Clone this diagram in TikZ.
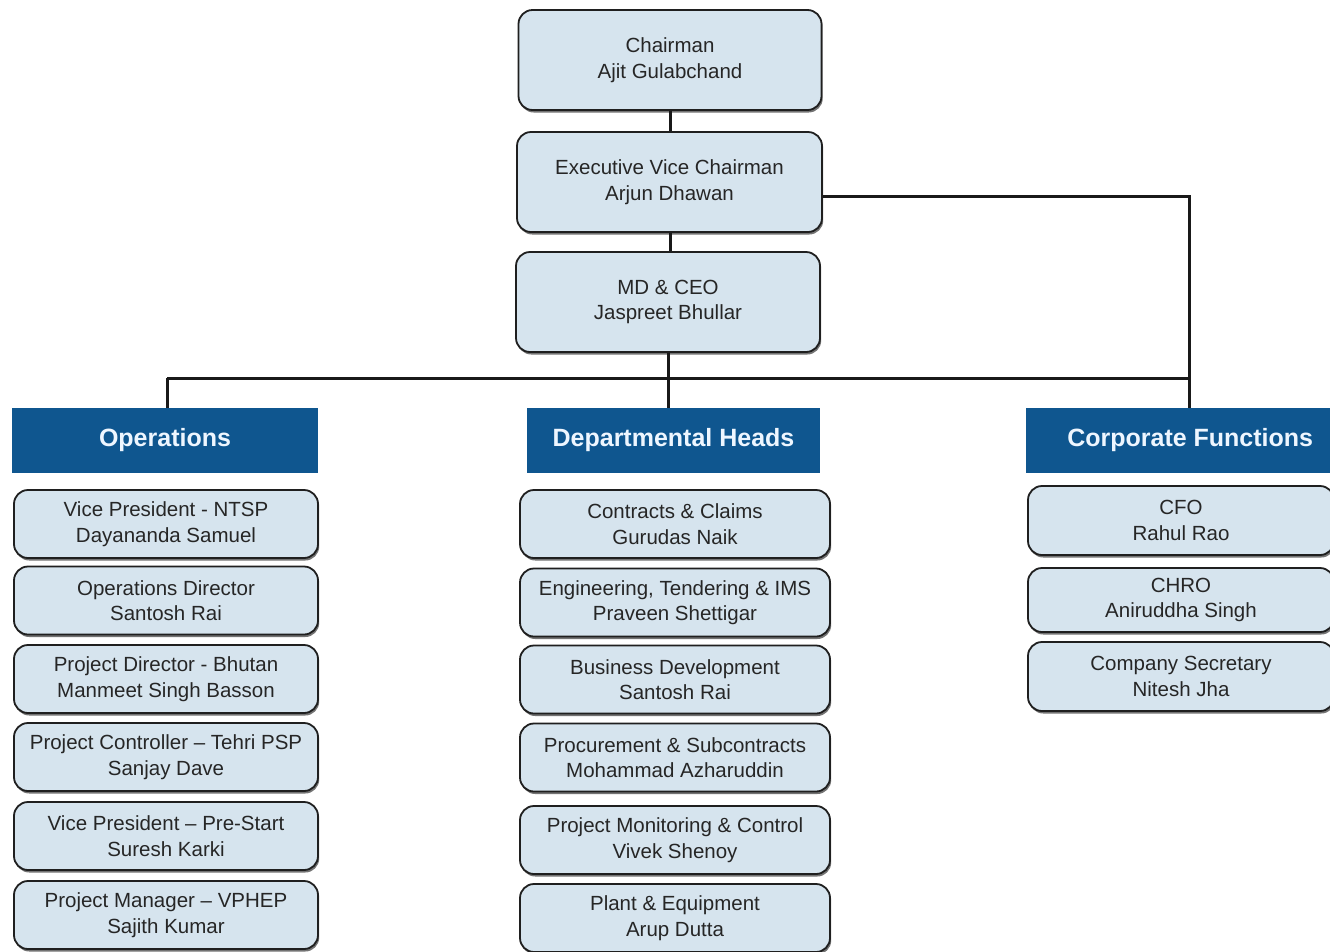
\documentclass[tikz,border=0pt]{standalone}
\usepackage{fontspec}
\setmainfont{Liberation Sans}
\usetikzlibrary{shadows}
\definecolor{boxfill}{HTML}{D6E4EE}
\definecolor{hdrfill}{HTML}{0F568F}
\definecolor{hdrtext}{HTML}{EEF6FF}
\begin{document}
\begin{tikzpicture}[x=1pt,y=1pt,
  box/.style={draw=black!88, line width=1.8pt, rounded corners=14pt, fill=boxfill,
    align=center, inner sep=0pt, font=\fontsize{20.5}{25.5}\selectfont, text=black!85,
    drop shadow={shadow xshift=1.2pt, shadow yshift=-2.5pt, opacity=0.55, fill=black}},
  hdr/.style={fill=hdrfill, inner sep=0pt, minimum height=65pt, text=hdrtext,
    font=\fontsize{25}{29}\selectfont\bfseries},
  link/.style={line width=3pt, draw=black!90}]
\useasboundingbox (0,0) rectangle (1330,-951);
\fill[white] (0,0) rectangle (1330,-951);

% top chain
\node[box, minimum width=303pt, minimum height=100pt] (chair) at (670,-60) {Chairman\\Ajit Gulabchand};
\node[box, minimum width=305pt, minimum height=100pt] (evc) at (669.5,-182) {Executive Vice Chairman\\Arjun Dhawan};
\node[box, minimum width=304pt, minimum height=100pt] (md) at (668,-302) {MD \& CEO\\Jaspreet Bhullar};

% headers
\node[hdr, minimum width=306pt] (ops) at (165,-440.5) {Operations};
\node[hdr, minimum width=293pt] (dept) at (673.5,-440.5) {Departmental Heads};
\node[hdr, minimum width=328pt, anchor=west] (corp) at (1026,-440.5) {Corporate Functions};

% connectors
\coordinate (bus) at (668,-378);
\coordinate (busL) at (167,-378);
\coordinate (busR) at (1189,-378);
\coordinate (evcR) at (1189,-196);
\draw[link] (chair.south) -- (chair.south |- evc.north);
\draw[link] (chair.south |- evc.south) -- (chair.south |- md.north);
\draw[link] (md.south) -- (md.south |- dept.north);
\draw[link] (busL) -- (busR);
\draw[link] (busL) -- (busL |- ops.north);
\draw[link] (evc.east |- evcR) -- (evcR) -- (busR) -- (busR |- corp.north);

% operations
\begin{scope}[every node/.style={box, minimum width=304pt, minimum height=68pt}]
\node (o1) at (166,-524) {Vice President - NTSP\\Dayananda Samuel};
\node (o2) at (166,-600.5) {Operations Director\\Santosh Rai};
\node (o3) at (166,-679) {Project Director - Bhutan\\Manmeet Singh Basson};
\node (o4) at (166,-757) {Project Controller -- Tehri PSP\\Sanjay Dave};
\node (o5) at (166,-836) {Vice President -- Pre-Start\\Suresh Karki};
\node (o6) at (166,-915) {Project Manager -- VPHEP\\Sajith Kumar};
\end{scope}

% departmental
\begin{scope}[every node/.style={box, minimum width=310pt, minimum height=68pt}]
\node (d1) at (675,-524) {Contracts \& Claims\\Gurudas Naik};
\node (d2) at (675,-602.5) {Engineering, Tendering \& IMS\\Praveen Shettigar};
\node (d3) at (675,-679.5) {Business Development\\Santosh Rai};
\node (d4) at (675,-757.5) {Procurement \& Subcontracts\\Mohammad Azharuddin};
\node (d5) at (675,-840) {Project Monitoring \& Control\\Vivek Shenoy};
\node (d6) at (675,-918) {Plant \& Equipment\\Arup Dutta};
\end{scope}

% corporate
\begin{scope}[every node/.style={box, minimum width=306pt}]
\node[minimum height=69pt] (c1) at (1181,-520.5) {CFO\\Rahul Rao};
\node[minimum height=64pt] (c2) at (1181,-600) {CHRO\\Aniruddha Singh};
\node[minimum height=69pt] (c3) at (1181,-676.5) {Company Secretary\\Nitesh Jha};
\end{scope}
\end{tikzpicture}
\end{document}
